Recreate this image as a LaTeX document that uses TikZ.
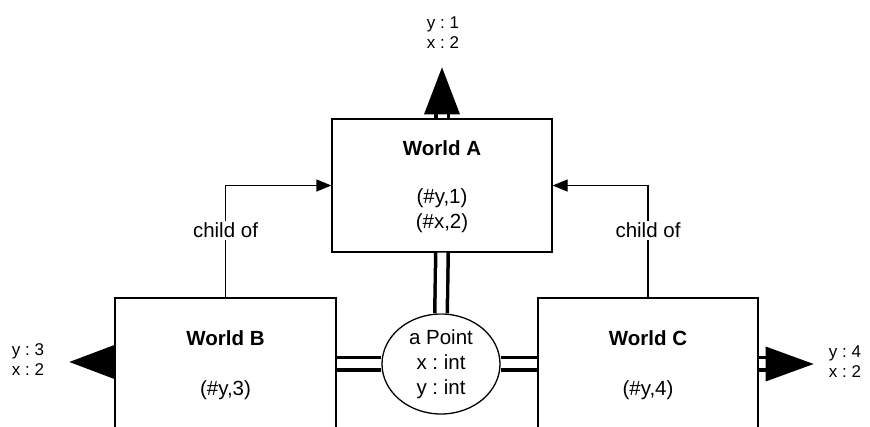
\documentclass[tikz,border=0pt]{standalone}
\usepackage{fontspec}
\setmainfont{Liberation Sans}
\usetikzlibrary{arrows.meta,shapes.geometric}
\frenchspacing
\begin{document}
\begin{tikzpicture}[x=1pt,y=-1pt,
  world/.style={draw, line width=1.3pt, fill=white, inner sep=0pt},
  point/.style={draw, ellipse, line width=1.3pt, fill=white, inner sep=0pt},
  txt/.style={font=\fontsize{20.5}{25}\selectfont, align=center, inner sep=0pt},
  ttl/.style={font=\fontsize{20.5}{25}\selectfont\bfseries, align=center, inner sep=0pt},
  lbl/.style={font=\fontsize{17}{19.5}\selectfont, align=center, inner sep=0pt},
  dbl/.style={draw, line width=3.5pt, double=white, double distance=9pt},
  rel/.style={draw, line width=1.3pt, -{Triangle[length=15pt,width=12pt]}},
  blk/.style={fill=black}
]
\clip (0,0) rectangle (870,427);
% boxes
\node[world, minimum width=220pt, minimum height=133pt] (A) at (442,185.5) {};
\node[world, minimum width=221pt, minimum height=172pt] (B) at (225.5,384) {};
\node[world, minimum width=220pt, minimum height=172pt] (C) at (648,384) {};
\node[point, minimum width=118pt, minimum height=100pt] (E) at (441,364) {};
% texts
\node[ttl] (At) at (442,148) {World A};
\node[txt] (Av) at (442,211) {(\#y,1)\\(\#x,2)};
\node[ttl] (Bt) at (225.5,338) {World B};
\node[txt] (Bv) at (225.5,390) {(\#y,3)};
\node[ttl] (Ct) at (648,338) {World C};
\node[txt] (Cv) at (648,390) {(\#y,4)};
\node[txt] (Et) at (441,364) {a Point\\x : int\\y : int};
% double connectors
\draw[dbl] (A.south) -- (E.north);
\draw[dbl] (E.west) -- (E.west -| B.east);
\draw[dbl] (E.east) -- (E.east -| C.west);
% top output
\coordinate (Atop) at ([yshift=4pt]A.north);
\draw[dbl] (A.north) -- (Atop);
\fill[blk] ([xshift=-18pt]Atop) -- ([xshift=18pt]Atop) -- ([yshift=47pt]Atop) -- cycle;
\node[lbl] (Aout) at (443,32.5) {y : 1\\x : 2};
% left output
\coordinate (Bout) at (B.west |- 0,362);
\fill[blk] ([yshift=17pt]Bout) -- ([yshift=-17pt]Bout) -- ([xshift=-45pt]Bout) -- cycle;
\node[lbl] (Bl) at (28,359.5) {y : 3\\x : 2};
% right output
\coordinate (Cedge) at (C.east |- E.east);
\coordinate (Cout) at ([xshift=7pt]Cedge);
\draw[dbl] (Cedge) -- (Cout);
\fill[blk] ([yshift=17.5pt]Cout) -- ([yshift=-17.5pt]Cout) -- ([xshift=48pt]Cout) -- cycle;
\node[lbl] (Cl) at (845,361.5) {y : 4\\x : 2};
% child of
\draw[rel] (B.north) |- (A.west) node[txt, fill=white, inner sep=2pt, pos=0.3] (l1) {child of};
\draw[rel] (C.north) |- (A.east) node[txt, fill=white, inner sep=2pt, pos=0.3] (l2) {child of};
\end{tikzpicture}
\end{document}
